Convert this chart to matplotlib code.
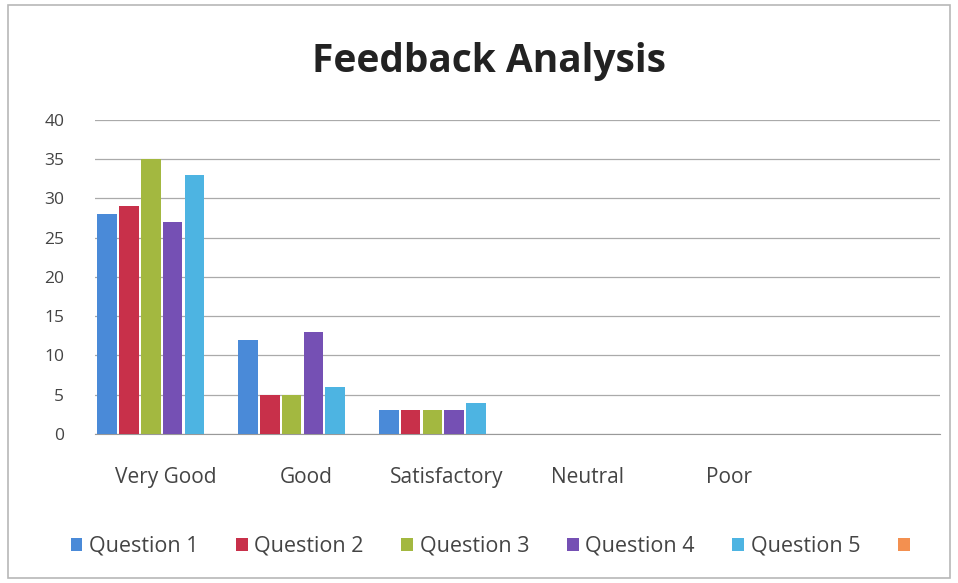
import matplotlib
matplotlib.use("Agg")
import matplotlib.pyplot as plt
from matplotlib.patches import Rectangle, Patch
import numpy as np

categories = ["Very Good", "Good", "Satisfactory", "Neutral", "Poor", ""]
series_names = ["Question 1", "Question 2", "Question 3", "Question 4", "Question 5", ""]
q1 = [28, 12, 3, 0, 0, 0]
q2 = [29, 5, 3, 0, 0, 0]
q3 = [35, 5, 3, 0, 0, 0]
q4 = [27, 13, 3, 0, 0, 0]
q5 = [33, 6, 4, 0, 0, 0]
q6 = [0, 0, 0, 0, 0, 0]
series = [q1, q2, q3, q4, q5, q6]
colors = ["#4a8ad8", "#c8304a", "#a3b840", "#7550b4", "#4db4e2", "#f39050"]
yticks = [0, 5, 10, 15, 20, 25, 30, 35, 40]

plt.rcParams['font.family'] = ['Open Sans', 'DejaVu Sans']

fig = plt.figure(figsize=(9.58, 5.83), dpi=100)
fig.patch.set_facecolor("white")
fig.add_artist(Rectangle((0.008, 0.008), 0.984, 0.984, transform=fig.transFigure,
                         fill=False, edgecolor="#b8b8b8", linewidth=1.2))

ax = fig.add_axes([0.099, 0.2556, 0.882, 0.5386])
n = len(series)
w = 0.155
x = np.arange(len(categories))
for j, (vals, c) in enumerate(zip(series, colors)):
    pos = x - 0.5 + 0.01 + (j + 0.5) * w
    ax.bar(pos, vals, width=w * 0.9, color=c, zorder=3)

ax.set_xlim(-0.5, len(categories) - 0.5)
ax.set_ylim(0, 40)
ax.set_yticks(yticks)
ax.set_xticks(x)
ax.set_xticklabels(categories)
ax.yaxis.grid(True, color="#aaaaaa", linewidth=0.9, zorder=0)
for s in ["top", "right", "left"]:
    ax.spines[s].set_visible(False)
ax.spines["bottom"].set_color("#999999")
ax.tick_params(axis="y", length=0, pad=22, labelsize=12.5, labelcolor="#444444")
ax.tick_params(axis="x", length=0, pad=24, labelsize=15, labelcolor="#444444")

fig.text(0.51, 0.895, "Feedback Analysis", ha="center", va="center",
         fontsize=28, fontweight="bold", color="#222222")

handles = [Patch(facecolor=c, edgecolor="none") for c in colors]
fig.legend(handles, series_names, loc="center", bbox_to_anchor=(0.515, 0.063),
           ncol=6, frameon=False, fontsize=15.5, handlelength=0.55, handleheight=0.55,
           handletextpad=0.3, columnspacing=1.75, labelcolor="#444444")

fig.savefig("out.png", dpi=100)
